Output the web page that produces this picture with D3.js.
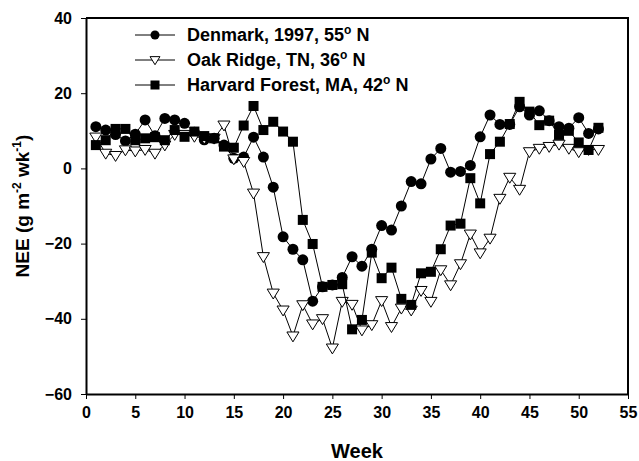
<!DOCTYPE html>
<html>
<head>
<meta charset="utf-8">
<script src="https://cdn.jsdelivr.net/npm/d3@7"></script>
<style>
body { margin: 0; background: #fff; }
svg { display: block; font-family: Arial, "Liberation Sans", sans-serif; }
.axis text { font-weight: bold; font-size: 16px; fill: #000; }
.axis path, .axis line { stroke: #000; }
</style>
</head>
<body>
<script>
//chart data (weekly NEE)
var weeks = d3.range(1, 53);
var seriesNames = ["Denmark, 1997, 55", "Oak Ridge, TN, 36", "Harvard Forest, MA, 42"];
var denmark = [11.1, 10.2, 9, 7.3, 9.1, 12.9, 8.7, 13.3, 12.9, 12, 9.6, 7.6, 8, 6.2, 2.7, 3.0, 8.3, 3.0, -5.0, -18.2,
	-21.5, -24.3, -35.3, -31.5, -31, -29, -23.5, -26, -21.5, -15.2, -16.4, -10, -3.5, -4.1, 2.5, 5.3, -1.0, -0.8, 0.8, 8.4,
	14.2, 11.7, 11.7, 16.4, 14.2, 15.3, 12.7, 11.1, 10.7, 13.5, 9.3, 10.5];
var oakRidge = [8.3, 4, 3.4, 4.9, 4.6, 5, 4, 6.2, 9, 9, 8.5, 8, 8, 11.5, 2.5, 1.8, -6.6, -23.5, -33.2, -37.7,
	-44.6, -36.3, -41.4, -40, -47.8, -35.4, -36.2, -43, -41.6, -35.2, -42.1, -37.2, -37.7, -32.5, -35.4, -27, -31, -25.4, -17.5, -22.5,
	-18.6, -8, -2.4, -5.6, 4.4, 5.3, 5.8, 6.4, 5.3, 4.4, 5, 5];
var harvard = [6.2, 7.5, 10.5, 10.5, 7.5, 8, 8.3, 7.5, 10.2, 8.4, 9.8, 8.6, 8, 5.8, 5.5, 11.4, 16.6, 10.2, 12.4, 9.8,
	7.1, -13.7, -20.1, -31.5, -31, -30.8, -42.8, -40.3, -22.4, -29.2, -26.4, -34.7, -36.3, -27.9, -27.5, -21.5, -15.2, -14.7, -2.6, -9.3,
	3.8, 7.1, 11.8, 17.7, 15.1, 11.5, 12.7, 8.9, 10, 6.9, 4.9, 10.8];
var xTicks = d3.range(0, 56, 5);
var yTicks = [-60, -40, -20, 0, 20, 40];

var w = 639, h = 461;
var margin = {left: 86, right: 11, top: 18, bottom: 67};

var svg = d3.select("body").append("svg")
	.attr("width", w)
	.attr("height", h);

var x = d3.scaleLinear().domain([0, 55]).range([margin.left, w - margin.right]);
var y = d3.scaleLinear().domain([-60, 40]).range([h - margin.bottom, margin.top]);

//axes
svg.append("g")
	.attr("class", "axis")
	.attr("transform", "translate(0," + y(-60) + ")")
	.call(d3.axisBottom(x).tickValues(xTicks).tickSize(5).tickPadding(8).tickSizeOuter(0))
	.call(function(g){ g.select(".domain").attr("stroke-width", 2); });

svg.append("g")
	.attr("class", "axis")
	.attr("transform", "translate(" + x(0) + ",0)")
	.call(d3.axisLeft(y).tickValues(yTicks).tickSize(5).tickPadding(9).tickSizeOuter(0))
	.call(function(g){ g.select(".domain").attr("stroke-width", 2); });

//top and right frame
svg.append("path")
	.attr("d", "M" + x(0) + "," + y(40) + "H" + x(55) + "V" + y(-60))
	.attr("fill", "none")
	.attr("stroke", "#000")
	.attr("stroke-width", 2);

//series
var line = d3.line()
	.x(function(d, i){ return x(weeks[i]); })
	.y(function(d){ return y(d); });

function drawMarker(g, type, size) {
	if (type == "circle") {
		g.append("circle").attr("r", size).attr("fill", "#000");
	} else if (type == "square") {
		g.append("rect").attr("x", -size).attr("y", -size).attr("width", size * 2).attr("height", size * 2).attr("fill", "#000");
	} else {
		var s = size;
		g.append("path")
			.attr("d", "M" + (-s * 1.1) + "," + (-s * 0.75) + "L" + (s * 1.1) + "," + (-s * 0.75) + "L0," + (s * 1.05) + "Z")
			.attr("fill", "#fff")
			.attr("stroke", "#000")
			.attr("stroke-width", 1);
	}
}

var series = [
	{values: denmark, type: "circle", size: 5.5},
	{values: oakRidge, type: "triangle", size: 5.5},
	{values: harvard, type: "square", size: 5}
];

series.forEach(function(s){
	svg.append("path")
		.datum(s.values)
		.attr("d", line)
		.attr("fill", "none")
		.attr("stroke", "#000")
		.attr("stroke-width", 1);
	svg.selectAll(null)
		.data(s.values)
		.enter()
		.append("g")
		.attr("transform", function(d, i){ return "translate(" + x(weeks[i]) + "," + y(d) + ")"; })
		.each(function(){ drawMarker(d3.select(this), s.type, s.size); });
});

//legend
var legend = svg.append("g");
series.forEach(function(s, i){
	var ly = 35 + i * 25;
	legend.append("line")
		.attr("x1", 135).attr("x2", 175)
		.attr("y1", ly).attr("y2", ly)
		.attr("stroke", "#000");
	var mg = legend.append("g").attr("transform", "translate(155," + ly + ")");
	drawMarker(mg, s.type, 4.5);
	var t = legend.append("text")
		.attr("x", 187)
		.attr("y", ly + 6)
		.attr("font-size", 18)
		.attr("font-weight", "bold");
	t.append("tspan").text(seriesNames[i]);
	t.append("tspan").attr("dy", -7).attr("font-size", 12).text("o");
	t.append("tspan").attr("dy", 7).text(" N");
});

//axis titles
svg.append("text")
	.attr("x", x(27.5))
	.attr("y", 458)
	.attr("text-anchor", "middle")
	.attr("font-size", 20)
	.attr("font-weight", "bold")
	.text("Week");

var yt = svg.append("text")
	.attr("transform", "translate(29," + y(-10) + ") rotate(-90)")
	.attr("text-anchor", "middle")
	.attr("font-size", 19)
	.attr("font-weight", "bold");
yt.append("tspan").text("NEE (g m");
yt.append("tspan").attr("dy", -8).attr("font-size", 12).text("-2");
yt.append("tspan").attr("dy", 8).text(" wk");
yt.append("tspan").attr("dy", -8).attr("font-size", 12).text("-1");
yt.append("tspan").attr("dy", 8).text(")");
</script>
</body>
</html>
